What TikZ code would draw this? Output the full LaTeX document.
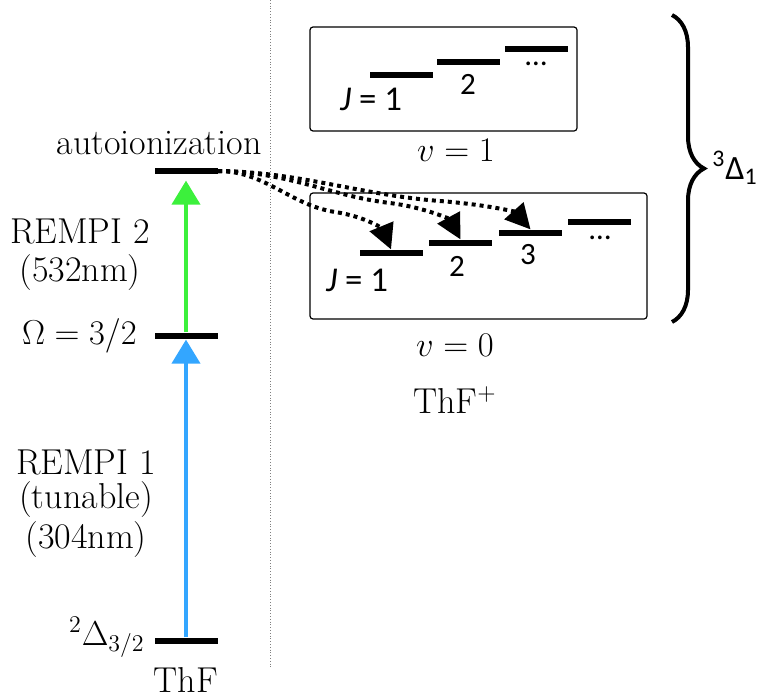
\documentclass[tikz,border=0pt]{standalone}
\usepackage{fontspec}
\newfontfamily\calib{Carlito}
\usetikzlibrary{arrows.meta,decorations.pathreplacing}
\definecolor{rempigreen}{HTML}{3CF03C}
\definecolor{rempiblue}{HTML}{33A6FF}

\begin{document}
\begin{tikzpicture}[x=0.5pt,y=-0.5pt,semithick,
  every node/.style={font=\fontsize{18}{21.6}\selectfont},
  lvl/.style={fill=black,inner sep=0pt,minimum width=31.5pt,minimum height=3pt},
  box/.style={draw,rounded corners=1.5pt,inner sep=0pt,line width=0.6pt},
  pump/.style={line width=2pt,-{Triangle[length=12pt,width=14pt]}},
  decay/.style={line width=2pt,dash pattern=on 2pt off 2pt,-{Triangle[length=12.5pt,width=12.5pt]}},
  jlbl/.style={font=\calib\fontsize{15.5}{18}\selectfont}]
 \useasboundingbox (0,0) rectangle (761,696);
 \draw[gray,densely dotted,thin] (270,0) -- (270,667);

 % ThF levels
 \node[lvl] (auto)   at (186,171) {};
 \node[lvl] (omega)  at (186,336) {};
 \node[lvl] (ground) at (186,641) {};

 \node at (159,143) {autoionization};
 \node at (80,231) {REMPI 2};
 \node at (80,273) {(532nm)};
 \node[anchor=east] at (144,336) {$\Omega = 3/2$};
 \node at (86,462) {REMPI 1};
 \node at (86,500) {(tunable)};
 \node at (86,540) {(304nm)};
 \node[anchor=base east] at (152,645) {$^2\Delta_{3/2}$};
 \node[anchor=base,inner sep=0pt] at (186,692) {ThF};

 \draw[pump,rempiblue]  (ground.north) -- (omega.south);
 \draw[pump,rempigreen,shorten >=3pt] (omega.north) -- (auto.south);

 % ThF+ , v=1
 \node[box,minimum width=133.5pt,minimum height=52pt] (vone) at (443.5,79) {};
 \node[lvl] (a1) at (401.5,75) {};
 \node[lvl] (a2) at (468.5,62) {};
 \node[lvl] (a3) at (536.5,49) {};
 \node[jlbl,font=\calib\fontsize{17.4}{20}\selectfont] at (371,99) {\textit{J} = 1};
 \node[jlbl] at (468,84) {2};
 \node[jlbl] at (536,64) {\ldots};
 \node at (456,150) {$v = 1$};

 % ThF+ , v=0
 \node[box,minimum width=168.5pt,minimum height=63pt] (vzero) at (478.5,256) {};
 \node[lvl] (b1) at (391,253) {};
 \node[lvl] (b2) at (460.5,243) {};
 \node[lvl] (b3) at (530.5,233) {};
 \node[lvl] (b4) at (599.5,222) {};
 \node[jlbl,font=\calib\fontsize{17.4}{20}\selectfont] at (357,280) {\textit{J} = 1};
 \node[jlbl] at (457,266) {2};
 \node[jlbl] at (528,255) {3};
 \node[jlbl] at (600,238) {\ldots};
 \node at (455,345) {$v = 0$};
 \node at (455,400) {ThF$^+$};

 \draw[decay] (auto.east) .. controls (265,171) and (290,205) .. (335,212)
                          .. controls (368,217) and (383,230) .. (b1.north);
 \draw[decay] (auto.east) .. controls (290,172) and (330,196) .. (390,203)
                          .. controls (428,208) and (450,220) .. (b2.north);
 \draw[decay] (auto.east) .. controls (300,172) and (360,195) .. (440,201)
                          .. controls (490,205) and (515,212) .. (b3.north);

 \draw[decorate,decoration={brace,amplitude=16pt},line width=2pt] (672,15) -- (672,322);
 \node[font=\calib\fontsize{17}{20}\selectfont] (tri) at (735,168) {\textsuperscript{3}Δ\textsubscript{1}};
\end{tikzpicture}
\end{document}
